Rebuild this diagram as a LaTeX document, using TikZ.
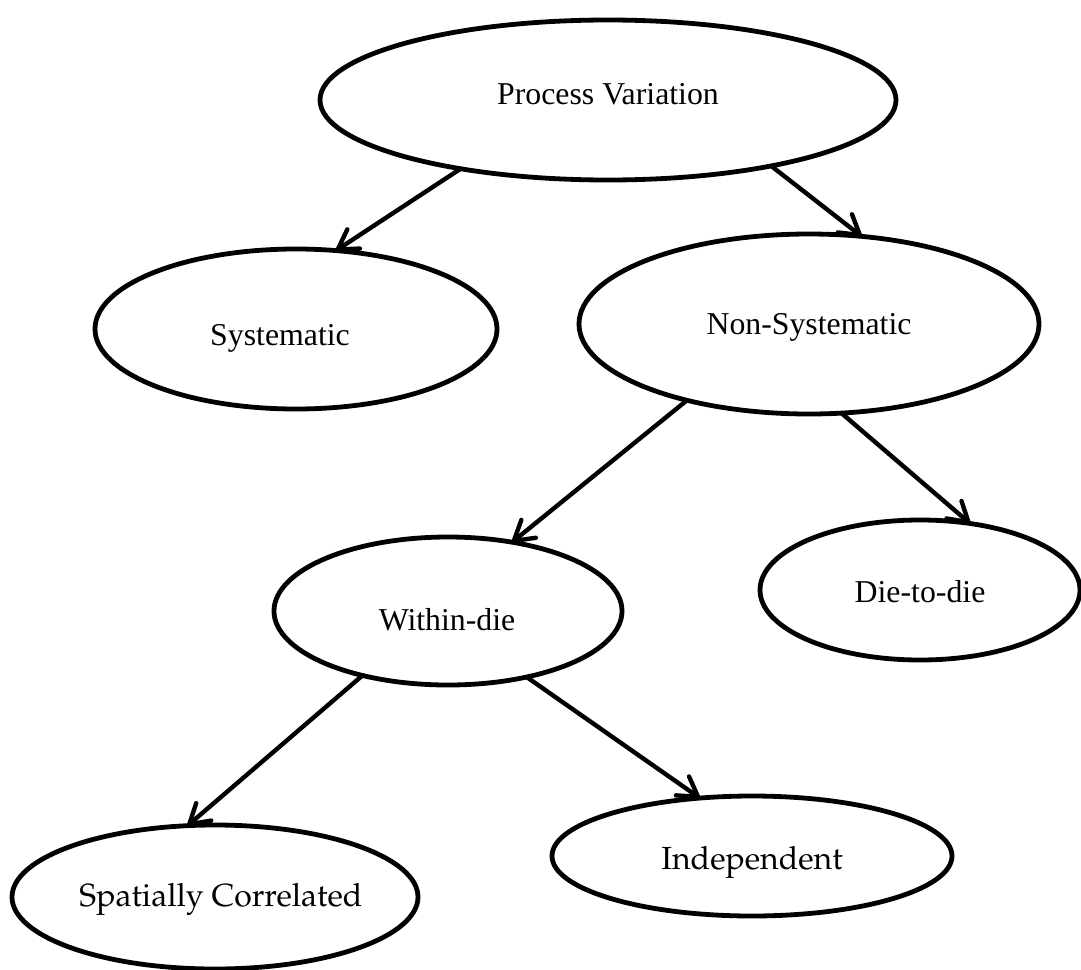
\documentclass[tikz,border=0pt]{standalone}
\usepackage[T1]{fontenc}
\usepackage{fontspec}
\setmainfont{Liberation Serif}
\usetikzlibrary{shapes.geometric,arrows.meta}
\newcommand\palfont{\fontencoding{T1}\fontfamily{ppl}\selectfont}
\tikzset{
  oval/.style={ellipse, draw, line width=2.4pt, inner sep=0pt, outer sep=0pt},
  lbl/.style={font=\fontsize{15.9}{19}\selectfont, inner sep=0pt},
  plbl/.style={font=\palfont\fontsize{16}{19}\selectfont, inner sep=0pt},
  arr/.style={line width=2.2pt, line cap=round,
    -{Straight Barb[length=9.5pt,width=11.5pt,line cap=round,line join=round]}}
}
\begin{document}
\begin{tikzpicture}[x=0.5pt,y=-0.5pt]
\useasboundingbox (0,0) rectangle (1081,969);

% ovals of the classification tree
\node[oval, minimum width=288pt, minimum height=80pt]  (pv)  at (608,100) {};
\node[oval, minimum width=201pt, minimum height=80pt]  (sys) at (296,329) {};
\node[oval, minimum width=230pt, minimum height=90pt]  (ns)  at (809,324) {};
\node[oval, minimum width=174pt, minimum height=74pt]  (wd)  at (448,611) {};
\node[oval, minimum width=160pt, minimum height=70pt]  (dd)  at (920,590) {};
\node[oval, minimum width=203pt, minimum height=72pt]  (sc)  at (215,897) {};
\node[oval, minimum width=200pt, minimum height=60pt]  (ind) at (752,856) {};

% labels
\node[lbl]  (tpv)  at (608,94)  {Process Variation};
\node[lbl]  (tsys) at (280,338) {Systematic};
\node[lbl]  (tns)  at (809,327) {Non-Systematic};
\node[lbl]  (twd)  at (447,620) {Within-die};
\node[lbl]  (tdd)  at (920,592) {Die-to-die};
\node[plbl] (tsc)  at (221,899) {Spatially Correlated};
\node[plbl] (tind) at (752,862) {Independent};

% connectors
\draw[arr] (pv.205) -- (sys.63);
\draw[arr] (pv.338) -- (ns.59);
\draw[arr] (ns.212) -- (wd.47);
\draw[arr] (ns.290) -- (dd.53);
\draw[arr] (wd.217) -- (sc.111);
\draw[arr] (wd.320) -- (ind.132);
\end{tikzpicture}
\end{document}
